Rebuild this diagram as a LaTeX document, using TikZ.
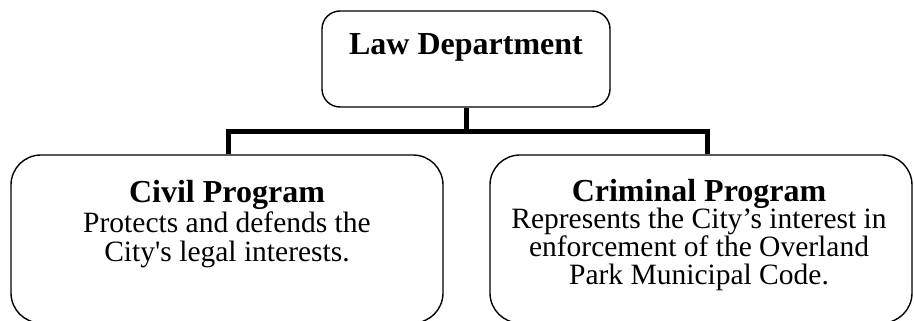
\documentclass[tikz,border=0pt]{standalone}
\usepackage{fontspec}
\setmainfont{Liberation Serif}
\usetikzlibrary{calc}
\begin{document}
\begin{tikzpicture}[x=1pt,y=1pt,
  box/.style={draw=black, line width=1.4pt, fill=white, inner sep=0pt},
  topbox/.style={box, rounded corners=18pt, minimum width=288pt, minimum height=96pt},
  progbox/.style={box, rounded corners=30pt, minimum height=168pt},
  conn/.style={draw=black, line width=5pt, line join=miter},
  headtxt/.style={anchor=base, inner sep=0pt, font=\fontsize{32}{38}\selectfont\bfseries},
  titletxt/.style={anchor=base, inner sep=0pt, font=\fontsize{32}{38}\selectfont\bfseries},
  bodytxt/.style={anchor=base, inner sep=0pt, font=\fontsize{29.5}{34}\selectfont, align=center}]
\useasboundingbox (0,0) rectangle (914,321);
\begin{scope}
\clip (0,0) rectangle (914,321);
% boxes
\node[topbox] (law) at (466,262) {};
\node[progbox, minimum width=432pt] (civil) at (227,82) {};
\node[progbox, minimum width=422pt] (crim) at (701,82) {};
% connectors
\coordinate (bus) at (466,189);
\draw[conn] (law.south) -- (bus);
\draw[conn] ($(civil.north)+(1,0)$) |- (bus) -| ($(crim.north)+(6,0)$);
% texts
\node[headtxt] (lawt) at (466,266) {Law Department};
\node[titletxt] (civilt) at (227,118) {Civil Program};
\node[bodytxt] (civilb1) at (227,88) {Protects and defends the};
\node[bodytxt] (civilb2) at (227,59) {City\textquotesingle s legal interests.};
\node[titletxt] (crimt) at (699,119) {Criminal Program};
\node[bodytxt] (crimb1) at (699,92) {Represents the City’s interest in};
\node[bodytxt] (crimb2) at (699,64) {enforcement of the Overland};
\node[bodytxt] (crimb3) at (699,36) {Park Municipal Code.};
\end{scope}
\end{tikzpicture}
\end{document}
